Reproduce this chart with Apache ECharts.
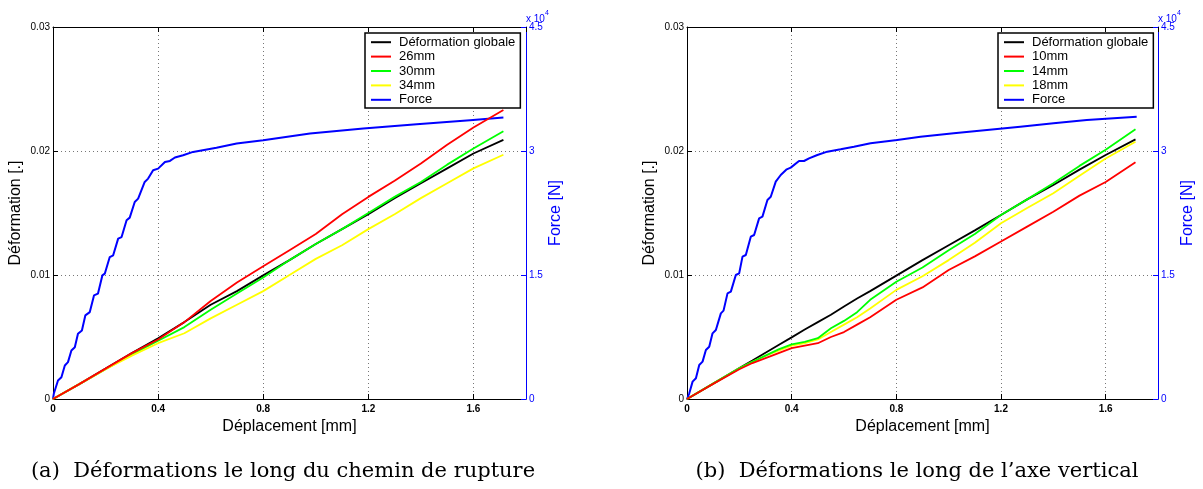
<!DOCTYPE html>
<html>
<head>
<meta charset="utf-8">
<script src="https://cdn.jsdelivr.net/npm/echarts@6/dist/echarts.min.js"></script>
<style>
html,body{margin:0;padding:0;background:#fff;}
#c{width:1203px;height:489px;}
</style>
</head>
<body>
<div id="c"></div>
<script>
// ---------- data ----------
var xTicks = [0, 0.4, 0.8, 1.2, 1.6];
var legendLeft = ['Déformation globale', '26mm', '30mm', '34mm', 'Force'];
var legendRight = ['Déformation globale', '10mm', '14mm', '18mm', 'Force'];

// (a) chemin de rupture
var defXL = [0,0.1,0.2,0.3,0.4,0.5,0.6,0.7,0.8,0.9,1.0,1.1,1.2,1.3,1.4,1.5,1.6,1.714];
var globalL = [0,0.0012,0.00245,0.0037,0.0049,0.0062,0.0076,0.0087,0.00997,0.0112,0.0125,0.0137,0.0149,0.0162,0.0174,0.0186,0.0198,0.0209];
var mm26 = [0,0.0012,0.00245,0.0037,0.0048,0.0062,0.0079,0.0094,0.0107,0.0120,0.0133,0.0149,0.0163,0.0176,0.0190,0.0205,0.0219,0.0233];
var mm30 = [0,0.0012,0.0024,0.0036,0.0047,0.0058,0.0072,0.0085,0.0098,0.0112,0.0125,0.0137,0.0150,0.0163,0.0175,0.0189,0.0202,0.0216];
var mm34 = [0,0.0012,0.0024,0.0035,0.0045,0.0053,0.0065,0.0076,0.0087,0.0100,0.0113,0.0124,0.0137,0.0149,0.0162,0.0174,0.0186,0.0197];
var forceXL = [0,0.003,0.019,0.032,0.045,0.057,0.070,0.083,0.095,0.110,0.123,0.140,0.156,0.171,0.188,0.197,0.216,0.229,0.248,0.261,0.280,0.292,0.311,0.324,0.349,0.362,0.381,0.400,0.426,0.445,0.464,0.495,0.533,0.622,0.699,0.800,0.978,1.181,1.384,1.587,1.714];
var forceL = [0,630,2240,2640,4060,4460,5870,6270,7890,8290,10110,10510,12530,12740,14960,15160,17170,17380,19400,19590,21620,21940,23830,24240,26260,26660,27670,27870,28680,28800,29210,29490,29890,30400,30900,31300,32120,32720,33240,33730,34050];

// (b) axe vertical
var defXR = [0,0.1,0.2,0.25,0.3,0.35,0.4,0.45,0.5,0.55,0.6,0.65,0.7,0.8,0.9,1.0,1.1,1.2,1.3,1.4,1.5,1.6,1.714];
var globalR = [0,0.00124,0.00249,0.0031,0.00373,0.00435,0.00497,0.0056,0.0062,0.0068,0.00746,0.0081,0.0087,0.00995,0.0112,0.0124,0.0136,0.01484,0.0161,0.01726,0.0185,0.01968,0.02094];
var mm10 = [0,0.00122,0.0024,0.0029,0.0033,0.0037,0.0041,0.0043,0.0045,0.0050,0.0054,0.0060,0.0066,0.0080,0.0090,0.0104,0.0115,0.0127,0.0139,0.0151,0.0164,0.0175,0.0191];
var mm14 = [0,0.00124,0.00248,0.0030,0.0035,0.0040,0.0044,0.0046,0.0049,0.0057,0.0063,0.0070,0.0080,0.00946,0.0106,0.0120,0.0133,0.01484,0.0161,0.0174,0.0188,0.0201,0.02175];
var mm18 = [0,0.00124,0.00248,0.0030,0.0035,0.0039,0.0043,0.0045,0.0048,0.0054,0.0060,0.0066,0.0073,0.0088,0.0099,0.0112,0.0126,0.01417,0.0154,0.0166,0.0180,0.0194,0.02075];
var forceXR = [0,0.0087,0.0214,0.0341,0.0468,0.0595,0.0722,0.0849,0.0976,0.1103,0.1294,0.1396,0.1548,0.1676,0.1866,0.1994,0.2121,0.2248,0.2438,0.2565,0.2756,0.2883,0.3074,0.3201,0.3392,0.3582,0.3811,0.3964,0.4281,0.4473,0.4663,0.4981,0.5362,0.5871,0.6379,0.7014,0.8032,0.8922,1.0193,1.1464,1.2736,1.4007,1.5278,1.7185];
var forceR = [0,690,2100,2500,4110,4520,5930,6330,7940,8350,10360,10690,12780,12990,15000,15200,17220,17420,19640,19840,21850,22060,24070,24470,26290,27100,27780,27990,28790,28790,29110,29520,29920,30200,30520,30930,31330,31730,32140,32540,32940,33350,33750,34150];

// ---------- helpers ----------
function pairs(xs, ys){ return xs.map(function(x,i){ return [x, ys[i]]; }); }
var SANS = 'Liberation Sans, Arial, Helvetica, sans-serif';
var BLUE = '#0000ff';

function bottomX(gi){
  return {
    type:'value', gridIndex:gi, position:'bottom', min:0, max:1.8, interval:0.4,
    name:'Déplacement [mm]', nameLocation:'middle', nameGap:15,
    nameTextStyle:{fontFamily:SANS, fontSize:16, color:'#000'},
    axisLine:{show:true, onZero:false, lineStyle:{color:'#000', width:1}},
    axisTick:{show:true, inside:true, length:5, lineStyle:{color:'#000'}},
    axisLabel:{fontFamily:SANS, fontSize:10, fontWeight:'bold', color:'#000', margin:5, showMaxLabel:false,
      formatter:function(v){ return String(v); }},
    splitLine:{show:true, lineStyle:{color:'#777', type:[1,3], width:1}}
  };
}
function topX(gi){
  return {
    type:'value', gridIndex:gi, position:'top', min:0, max:1.8, interval:0.4,
    axisLine:{show:true, onZero:false, lineStyle:{color:'#000', width:1}},
    axisTick:{show:true, inside:true, length:5, lineStyle:{color:'#000'}},
    axisLabel:{show:false}, splitLine:{show:false}
  };
}
function leftY(gi){
  return {
    type:'value', gridIndex:gi, position:'left', min:0, max:0.03, interval:0.01,
    name:'Déformation [.]', nameLocation:'middle', nameGap:29,
    nameTextStyle:{fontFamily:SANS, fontSize:16, color:'#000'},
    axisLine:{show:true, onZero:false, lineStyle:{color:'#000', width:1}},
    axisTick:{show:true, inside:true, length:5, lineStyle:{color:'#000'}},
    axisLabel:{fontFamily:SANS, fontSize:10, color:'#000', margin:3,
      formatter:function(v){ return String(+v.toFixed(3)); }},
    splitLine:{show:true, lineStyle:{color:'#777', type:[1,3], width:1}}
  };
}
function rightY(gi){
  return {
    type:'value', gridIndex:gi, position:'right', min:0, max:45000, interval:15000,
    name:'Force [N]', nameLocation:'middle', nameGap:22,
    nameTextStyle:{fontFamily:SANS, fontSize:16, color:BLUE},
    axisLine:{show:true, onZero:false, lineStyle:{color:BLUE, width:1}},
    axisTick:{show:true, inside:true, length:5, lineStyle:{color:BLUE}},
    axisLabel:{fontFamily:SANS, fontSize:10, color:BLUE, margin:3,
      formatter:function(v){ return String(v/10000); }},
    splitLine:{show:false}
  };
}
function line(name, xi, yi, data, color, w){
  return {type:'line', name:name, xAxisIndex:xi, yAxisIndex:yi, data:data,
    symbol:'none', showSymbol:false, smooth:false, animation:false,
    lineStyle:{color:color, width:w}, itemStyle:{color:color}};
}
function legend(left, names){
  return {
    left:left, top:33, orient:'vertical', data:names,
    backgroundColor:'#fff', borderColor:'#000', borderWidth:1.5,
    padding:[2,5,1,6], icon:'rect', itemWidth:20, itemHeight:2, itemGap:0,
    textStyle:{fontFamily:SANS, fontSize:13, color:'#000', lineHeight:14.4, padding:[0,0,0,3]},
    selectedMode:false
  };
}
function txt(x, y, s, size, color, family, align){
  return {type:'text', left:x, top:y, silent:true,
    style:{text:s, fontSize:size, fill:color, fontFamily:family, textAlign:align||'left'}};
}

var chart = echarts.init(document.getElementById('c'), null, {renderer:'canvas'});
chart.setOption({
  animation:false,
  backgroundColor:'#fff',
  grid:[
    {left:53, top:27, width:473, height:372, containLabel:false},
    {left:687, top:27, width:471, height:372, containLabel:false}
  ],
  xAxis:[bottomX(0), topX(0), bottomX(1), topX(1)],
  yAxis:[leftY(0), rightY(0), leftY(1), rightY(1)],
  legend:[legend(365, legendLeft), legend(998, legendRight)],
  series:[
    line('Force', 0, 1, pairs(forceXL, forceL), BLUE, 2),
    line('Déformation globale', 0, 0, pairs(defXL, globalL), '#000000', 1.8),
    line('30mm', 0, 0, pairs(defXL, mm30), '#00ff00', 1.8),
    line('34mm', 0, 0, pairs(defXL, mm34), '#ffff00', 1.8),
    line('26mm', 0, 0, pairs(defXL, mm26), '#ff0000', 1.8),

    line('Force', 2, 3, pairs(forceXR, forceR), BLUE, 2),
    line('Déformation globale', 2, 2, pairs(defXR, globalR), '#000000', 1.8),
    line('18mm', 2, 2, pairs(defXR, mm18), '#ffff00', 1.8),
    line('14mm', 2, 2, pairs(defXR, mm14), '#00ff00', 1.8),
    line('10mm', 2, 2, pairs(defXR, mm10), '#ff0000', 1.8)
  ],
  graphic:[
    txt(526, 14, 'x 10', 10, BLUE, SANS),
    txt(545, 10, '4', 7, BLUE, SANS),
    txt(1158, 14, 'x 10', 10, BLUE, SANS),
    txt(1177, 10, '4', 7, BLUE, SANS),
    {type:'text', x:283, y:461, silent:true,
      style:{text:'(a)  Déformations le long du chemin de rupture', fontSize:21, fill:'#000', fontFamily:'DejaVu Serif, serif', textAlign:'center'}},
    {type:'text', x:917, y:461, silent:true,
      style:{text:'(b)  Déformations le long de l\u2019axe vertical', fontSize:21, fill:'#000', fontFamily:'DejaVu Serif, serif', textAlign:'center'}}
  ]
});
</script>
</body>
</html>
